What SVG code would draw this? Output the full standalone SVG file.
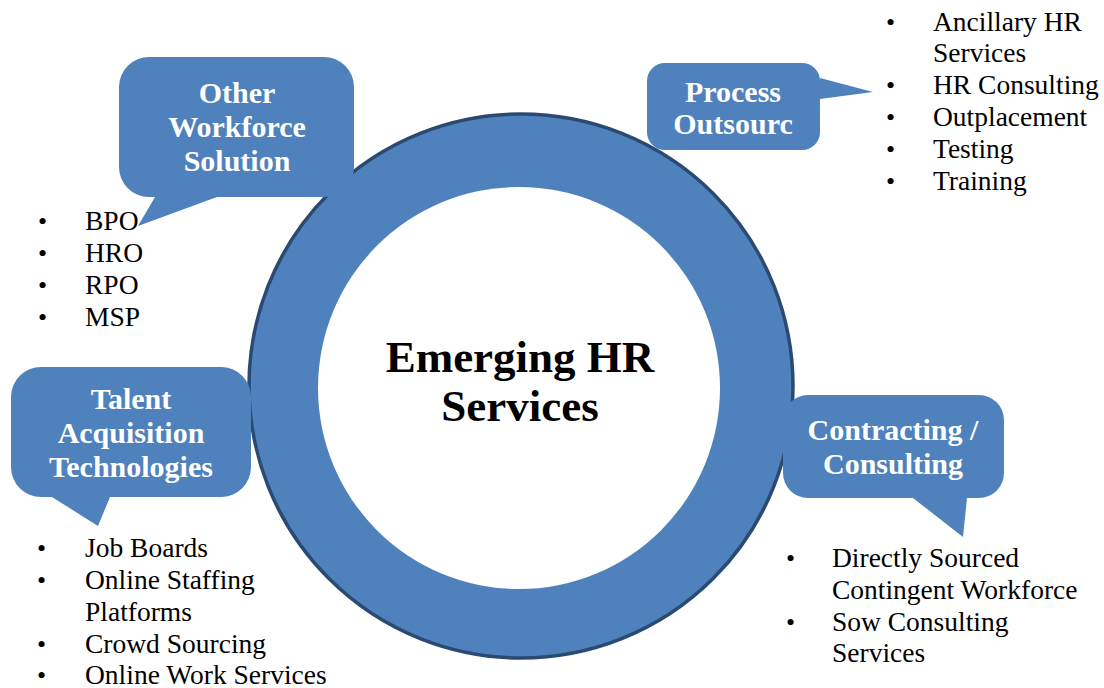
<svg xmlns="http://www.w3.org/2000/svg" width="1104" height="688" viewBox="0 0 1104 688">
<style>
.bub{fill:#4f81bd;}
.ct{font-family:"Liberation Serif","Times New Roman",serif;font-weight:bold;font-size:30px;fill:#ffffff;text-anchor:middle;}
.li{font-family:"Liberation Serif","Times New Roman",serif;font-size:27.5px;fill:#000000;}
.bt{font-family:"Liberation Serif","Times New Roman",serif;font-size:26px;fill:#000000;}
.main{font-family:"Liberation Serif","Times New Roman",serif;font-weight:bold;font-size:45px;fill:#000000;text-anchor:middle;}
</style>
<rect width="1104" height="688" fill="#ffffff"/>
<g id="center">
<circle cx="521" cy="386" r="272" fill="#4f81bd" stroke="#2b4a72" stroke-width="3.5"/>
<circle cx="519" cy="388" r="201" fill="#ffffff"/>
<text class="main" x="520" y="372">Emerging HR</text>
<text class="main" x="520" y="421">Services</text>
</g>
<g id="connectors"></g>
<g id="other-workforce">
<path class="bub" d="M149,57 H324 A30,30 0 0 1 354,87 V167 A30,30 0 0 1 324,197 H217 L138,226 L155,197 H149 A30,30 0 0 1 119,167 V87 A30,30 0 0 1 149,57 Z"/>
<text class="ct" x="237" y="103">Other</text>
<text class="ct" x="237" y="137">Workforce</text>
<text class="ct" x="237" y="171">Solution</text>
<text class="bt" x="38" y="230">•</text><text class="li" x="85" y="230">BPO</text>
<text class="bt" x="38" y="262">•</text><text class="li" x="85" y="262">HRO</text>
<text class="bt" x="38" y="294">•</text><text class="li" x="85" y="294">RPO</text>
<text class="bt" x="38" y="326">•</text><text class="li" x="85" y="326">MSP</text>
</g>
<g id="process-outsourcing">
<path class="bub" d="M665,63 H802 A18,18 0 0 1 820,81 V78 L873,92 L820,99 V132 A18,18 0 0 1 802,150 H665 A18,18 0 0 1 647,132 V81 A18,18 0 0 1 665,63 Z"/>
<text class="ct" x="733" y="102">Process</text>
<text class="ct" x="733" y="134">Outsourc</text>
<text class="bt" x="886" y="31">•</text><text class="li" x="933" y="31">Ancillary HR</text>
<text class="li" x="933" y="62">Services</text>
<text class="bt" x="886" y="94">•</text><text class="li" x="933" y="94">HR Consulting</text>
<text class="bt" x="886" y="126">•</text><text class="li" x="933" y="126">Outplacement</text>
<text class="bt" x="886" y="158">•</text><text class="li" x="933" y="158">Testing</text>
<text class="bt" x="886" y="190">•</text><text class="li" x="933" y="190">Training</text>
</g>
<g id="talent-acquisition">
<path class="bub" d="M41,367 H221 A30,30 0 0 1 251,397 V467 A30,30 0 0 1 221,497 H110 L98,526 L52,497 H41 A30,30 0 0 1 11,467 V397 A30,30 0 0 1 41,367 Z"/>
<text class="ct" x="131" y="409">Talent</text>
<text class="ct" x="131" y="443">Acquisition</text>
<text class="ct" x="131" y="477">Technologies</text>
<text class="bt" x="37" y="557">•</text><text class="li" x="85" y="557">Job Boards</text>
<text class="bt" x="37" y="589">•</text><text class="li" x="85" y="589">Online Staffing</text>
<text class="li" x="85" y="621">Platforms</text>
<text class="bt" x="37" y="653">•</text><text class="li" x="85" y="653">Crowd Sourcing</text>
<text class="bt" x="37" y="684">•</text><text class="li" x="85" y="684">Online Work Services</text>
</g>
<g id="contracting-consulting">
<path class="bub" d="M808,395 H979 A25,25 0 0 1 1004,420 V473 A25,25 0 0 1 979,498 H967 L963,537 L913,498 H808 A25,25 0 0 1 783,473 V420 A25,25 0 0 1 808,395 Z"/>
<text class="ct" x="893" y="440">Contracting /</text>
<text class="ct" x="893" y="474">Consulting</text>
<text class="bt" x="786" y="567">•</text><text class="li" x="832" y="567">Directly Sourced</text>
<text class="li" x="832" y="599">Contingent Workforce</text>
<text class="bt" x="786" y="631">•</text><text class="li" x="832" y="631">Sow Consulting</text>
<text class="li" x="832" y="662">Services</text>
</g>
</svg>
